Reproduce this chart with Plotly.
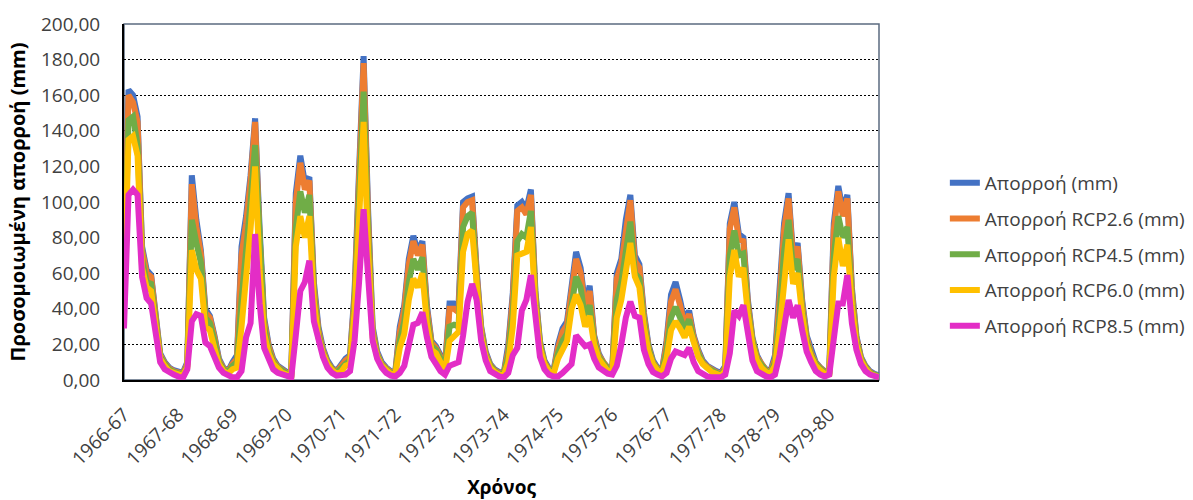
import plotly.graph_objects as go

years = ["1966-67", "1967-68", "1968-69", "1969-70", "1970-71", "1971-72", "1972-73",
         "1973-74", "1974-75", "1975-76", "1976-77", "1977-78", "1978-79", "1979-80"]

runoff = [
    60, 163, 160, 148, 75, 62, 59, 40, 15, 10, 7, 5.5,
    4.5, 4, 10, 115, 90, 73, 40, 36, 25, 12, 7, 5,
    10, 14, 75, 92, 115, 147, 85, 35, 20, 12, 8, 6,
    4.5, 4, 105, 126, 111, 114, 55, 30, 18, 11, 7, 5,
    9, 12, 14, 50, 118, 182, 95, 30, 16, 10, 7, 5,
    4.5, 30, 42, 68, 81, 72, 78, 42, 22, 19, 14, 8,
    43, 43, 42, 100, 102, 103, 62, 30, 16, 9, 6, 4.5,
    4, 20, 49, 98, 100, 96, 107, 50, 22, 11, 6.5, 5,
    20, 29, 33, 55, 72, 63, 42, 53, 25, 15, 10, 7,
    6, 60, 68, 90, 104, 70, 65, 38, 20, 11, 7, 5.5,
    22, 48, 55, 45, 33, 39, 25, 17, 11, 8, 6, 5,
    4, 8, 88, 100, 82, 80, 45, 24, 14, 9, 6, 5,
    14, 48, 88, 105, 70, 77, 45, 25, 16, 10, 7, 5,
    5, 88, 109, 95, 104, 52, 25, 13, 8, 5, 3.5, 2.5,
]

runoff_rcp26 = [
    57, 160, 156, 145, 73, 60, 58, 38, 14, 9.5, 6.5, 5,
    4, 3.5, 9, 110, 86, 71, 38, 35, 24, 11, 6.5, 4.5,
    9, 12, 70, 88, 112, 145, 80, 33, 19, 11, 7.5, 5.5,
    4, 3.5, 100, 122, 107, 112, 52, 28, 17, 10, 6.5, 4.5,
    8, 11, 13, 47, 113, 178, 90, 28, 15, 9, 6.5, 4.5,
    4, 27, 40, 65, 78, 70, 76, 40, 21, 18, 13, 7,
    40, 40, 38, 97, 100, 101, 60, 29, 15, 8.5, 5.5, 4,
    3.5, 17, 46, 95, 97, 93, 104, 48, 21, 10, 6, 4.5,
    18, 27, 31, 52, 68, 60, 40, 50, 24, 14, 9.5, 6.5,
    5.5, 57, 65, 86, 101, 67, 63, 36, 19, 10, 6.5, 5,
    20, 44, 51, 42, 31, 37, 24, 16, 10, 7.5, 5.5, 4.5,
    3.5, 7, 85, 97, 79, 78, 43, 23, 13, 8.5, 5.5, 4.5,
    12, 45, 84, 102, 68, 75, 43, 24, 15, 9.5, 6.5, 4.5,
    4.5, 84, 106, 92, 102, 50, 24, 12.5, 7.5, 4.5, 3, 2,
]

runoff_rcp45 = [
    52, 146, 148, 132, 68, 55, 54, 35, 13, 9, 6, 4.5,
    3.5, 3, 8, 90, 77, 66, 35, 32, 22, 10, 6, 4,
    8, 10, 45, 70, 100, 132, 72, 30, 17, 10, 7, 5,
    3.5, 3, 85, 106, 94, 104, 48, 26, 16, 9.5, 6, 4,
    7, 9, 11, 42, 102, 162, 82, 26, 14, 8.5, 6, 4,
    3.5, 22, 33, 55, 68, 62, 69, 36, 19, 17, 12, 6,
    30, 31, 30, 86, 92, 94, 56, 27, 14, 8, 5, 3.5,
    3, 14, 38, 78, 82, 80, 95, 45, 20, 9.5, 5.5, 4,
    15, 22, 26, 45, 58, 52, 34, 42, 22, 13, 9, 6,
    5, 45, 55, 75, 89, 60, 57, 33, 18, 9.5, 6, 4.5,
    16, 35, 41, 35, 28, 34, 22, 15, 9.5, 7, 5, 4,
    3, 6, 70, 84, 70, 71, 40, 22, 12, 8, 5, 4,
    10, 36, 72, 90, 62, 68, 40, 22, 14, 9, 6, 4,
    4, 70, 92, 80, 86, 46, 22, 12, 7, 4, 3, 2,
]

runoff_rcp60 = [
    47, 135, 137, 126, 63, 52, 50, 32, 12, 8, 5, 4,
    3, 2.5, 7, 73, 62, 57, 30, 28, 18, 9, 5, 3.5,
    6, 7, 30, 55, 85, 120, 62, 26, 15, 9, 6, 4,
    3, 2.5, 75, 92, 80, 92, 44, 24, 15, 9, 5.5, 3.5,
    4.5, 8, 9, 38, 90, 145, 73, 24, 13, 8, 5.5, 3.5,
    3, 18, 26, 45, 57, 52, 60, 32, 17, 15, 10, 5,
    22, 25, 27, 72, 82, 84, 52, 25, 13, 7, 4.5, 3,
    2.5, 10, 30, 70, 71, 72, 86, 42, 18, 9, 5, 3.5,
    12, 18, 22, 40, 48, 42, 30, 36, 20, 12, 8, 5,
    4.5, 35, 45, 62, 77, 58, 52, 30, 16, 9, 5.5, 4,
    12, 28, 33, 29, 24, 30, 20, 13, 9, 6.5, 4.5, 3.5,
    2.5, 5, 58, 73, 58, 63, 37, 20, 11, 7, 4.5, 3.5,
    8, 28, 58, 79, 54, 60, 37, 20, 13, 8, 5.5, 3.5,
    3.5, 58, 80, 64, 76, 42, 20, 11, 6.5, 3.5, 2.5, 1.5,
]

runoff_rcp85 = [
    29, 104, 107, 104, 58, 46, 43, 28, 10, 6, 4, 3,
    2, 1, 6, 33, 37, 36, 21, 19, 13, 7, 4, 2.5,
    1.5, 1.5, 5, 24, 32, 82, 43, 18, 11, 6, 4, 3,
    2, 1.5, 25, 50, 55, 67, 33, 22, 13, 7, 4, 2.5,
    2.5, 3, 5, 22, 55, 96, 58, 22, 12, 7, 4, 2.5,
    2, 4, 8, 20, 31, 32, 38, 24, 13, 9, 5, 3,
    8, 9, 10, 25, 44, 54, 45, 22, 11, 5, 3, 2,
    1.5, 4, 14, 18, 39, 45, 59, 33, 13, 6, 3, 2,
    2, 4, 7, 9, 25, 22, 19, 20, 12, 7, 5, 3.5,
    3, 8, 20, 35, 44, 36, 35, 17, 9, 4.5, 3, 2,
    4, 12, 16, 15, 14, 18, 10, 5, 3, 2, 1.5, 1.5,
    1.5, 3, 15, 39, 36, 42, 24, 11, 5, 3, 2, 1.5,
    3, 14, 28, 45, 35, 42, 28, 16, 10, 5, 3, 2,
    3, 26, 43, 43, 59, 32, 17, 9, 5, 3, 2, 1.5,
]

series_names = ["Απορροή (mm)", "Απορροή RCP2.6 (mm)", "Απορροή RCP4.5 (mm)",
                "Απορροή RCP6.0 (mm)", "Απορροή RCP8.5 (mm)"]
series_values = [runoff, runoff_rcp26, runoff_rcp45, runoff_rcp60, runoff_rcp85]
series_colors = ["#4472C4", "#ED7D31", "#70AD47", "#FFC000", "#E32DC6"]

months_per_year = 12
x_idx = list(range(len(runoff)))
tick_positions = [k * months_per_year for k in range(len(years))]

FONT = "Open Sans"
fig = go.Figure()
for name, vals, color in zip(series_names, series_values, series_colors):
    fig.add_trace(go.Scatter(
        x=x_idx, y=vals, mode="lines", name=name, legendgroup=name,
        line=dict(color=color, width=6),
    ))

fig.update_layout(
    width=1193, height=500,
    margin=dict(l=124, r=314, t=24, b=120, autoexpand=False),
    paper_bgcolor="white", plot_bgcolor="rgba(0,0,0,0)",
    separators=", ",
    font=dict(family=FONT, color="#404040"),
    showlegend=True,
    legend=dict(
        xref="container", yref="container",
        x=0.792, y=0.672, xanchor="left", yanchor="top",
        font=dict(family=FONT, size=19, color="#404040"),
        tracegroupgap=8, bgcolor="rgba(0,0,0,0)",
    ),
    shapes=[dict(type="rect", xref="paper", yref="paper", x0=0, x1=1, y0=0, y1=1,
                 line=dict(color="#5B6B80", width=1.5), layer="below")],
)

fig.update_xaxes(
    range=[0, len(runoff) - 1], automargin=False,
    tickmode="array", tickvals=tick_positions, ticktext=years,
    tickangle=-45, ticks="", ticklabelstandoff=14,
    tickfont=dict(family=FONT, size=19, color="#404040"),
    showgrid=False, zeroline=False,
    showline=True, linecolor="black", linewidth=2,
    title=dict(text="<b>Χρόνος</b>", font=dict(family=FONT, size=19, color="#000000"), standoff=22),
)

fig.update_yaxes(
    range=[0, 200], dtick=20, tickformat=".2f", automargin=False,
    ticks="", ticklabelstandoff=18,
    tickfont=dict(family=FONT, size=19, color="#404040"),
    showgrid=True, gridcolor="#000000", gridwidth=1, griddash="2px,2px",
    zeroline=False,
    showline=True, linecolor="black", linewidth=2,
    title=dict(text="<b>Προσομοιωμένη απορροή (mm)</b>",
               font=dict(family=FONT, size=20, color="#000000"), standoff=10),
)

fig.write_html("out.html")
